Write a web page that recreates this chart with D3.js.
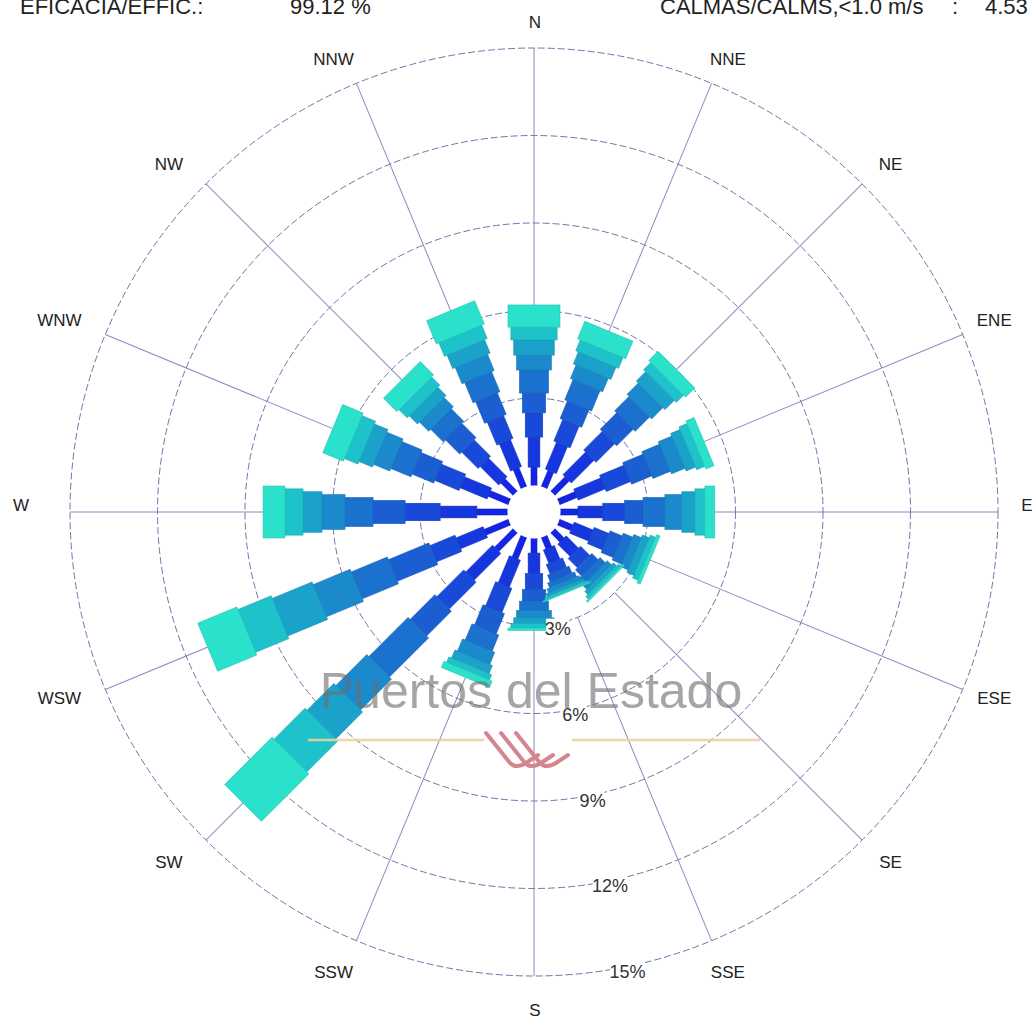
<!DOCTYPE html>
<html>
<head>
<meta charset="utf-8">
<script src="https://cdn.jsdelivr.net/npm/d3@7"></script>
<style>
  body { margin: 0; background: #fff; }
  svg { display: block; }
  text { font-family: "Liberation Sans", Arial, sans-serif; }
</style>
</head>
<body>
<script>

// 16 sectors, clockwise from north
var directions = ["N","NNE","NE","ENE","E","ESE","SE","SSE","S","SSW","SW","WSW","W","WNW","NW","NNW"];

// frequency (%) per speed class, one array per class, ordered as directions
var v1 = [0.63,0.60,0.70,0.65,0.60,0.50,0.45,0.42,0.50,0.80,0.90,0.90,1.05,0.75,0.60,0.70];
var v2 = [1.03,1.00,1.10,1.00,0.85,0.70,0.60,0.50,0.70,1.00,1.30,1.00,1.26,1.00,0.90,1.00];
var v3 = [0.83,0.80,0.90,0.90,0.75,0.55,0.45,0.35,0.55,0.90,1.30,0.93,1.20,0.90,0.80,0.85];
var v4 = [0.68,0.65,0.80,0.75,0.63,0.45,0.30,0.25,0.40,0.75,1.20,1.50,1.10,0.80,0.70,0.80];
var v5 = [0.79,0.75,0.70,0.65,0.75,0.35,0.25,0.18,0.32,0.60,1.90,1.34,0.96,0.75,0.60,0.75];
var v6 = [0.51,0.50,0.55,0.50,0.58,0.28,0.20,0.14,0.25,0.45,1.50,1.37,0.79,0.60,0.45,0.60];
var v7 = [0.52,0.45,0.45,0.35,0.45,0.25,0.15,0.11,0.20,0.30,1.30,1.48,0.65,0.50,0.40,0.50];
var v8 = [0.44,0.40,0.35,0.30,0.34,0.20,0.12,0.08,0.15,0.20,1.50,1.23,0.62,0.50,0.40,0.50];
var v9 = [0.76,0.65,0.45,0.30,0.34,0.12,0.06,0.04,0.08,0.23,2.30,1.45,0.75,0.76,0.65,0.86];

var classKeys = ["v1","v2","v3","v4","v5","v6","v7","v8","v9"];
var classSeries = [v1,v2,v3,v4,v5,v6,v7,v8,v9];

var ringTicks = [3,6,9,12,15];
var ringLabels = ["3%","6%","9%","12%","15%"];

var efficacy = "99.12 %";
var calms = "4.53";

var classColors = ["#1424e4","#1636de","#1849d8","#1a5ed2","#1b72ce","#1b8acc","#1aa2ca","#1ec2ca","#2ae2cc"];

var width = 1034, height = 1024;
var cx = 534, cy = 512;

var rows = directions.map(function(d, i){
  var row = {dir: d};
  classKeys.forEach(function(k, j){ row[k] = classSeries[j][i]; });
  return row;
});

var stacked = d3.stack().keys(classKeys)(rows);

var r = d3.scaleLinear().domain([0, 15]).range([26.5, 464]);
var barWidth = d3.scaleLinear().domain([0, classKeys.length-1]).range([6, 52]);
var color = d3.scaleOrdinal().domain(classKeys).range(classColors);
var angle = d3.scaleLinear().domain([0, directions.length]).range([0, 360]);

var svg = d3.select("body").append("svg")
  .attr("width", width)
  .attr("height", height);

var plot = svg.append("g").attr("transform", "translate(" + cx + "," + cy + ")");

// radial lines
plot.selectAll("line.spoke")
  .data(directions)
  .enter().append("line")
  .attr("class", "spoke")
  .attr("x1", 0).attr("y1", -r(3))
  .attr("x2", 0).attr("y2", -r(15))
  .attr("transform", function(d, i){ return "rotate(" + angle(i) + ")"; })
  .attr("stroke", "#8a8ac4")
  .attr("stroke-width", 1);

// dashed rings
plot.selectAll("circle.ring")
  .data(ringTicks)
  .enter().append("circle")
  .attr("class", "ring")
  .attr("r", function(d){ return r(d); })
  .attr("fill", "none")
  .attr("stroke", "#7474a8")
  .attr("stroke-width", 1)
  .attr("stroke-dasharray", "7,3");

// bars: one group per speed class, one rectangle per direction
var layers = plot.selectAll("g.layer")
  .data(stacked)
  .enter().append("g")
  .attr("class", "layer")
  .attr("fill", function(d){ return color(d.key); })
  .attr("stroke", function(d){ return d3.color(color(d.key)).darker(0.4); });

layers.selectAll("rect")
  .data(function(d){ return d.map(function(p){ return {p: p, idx: d.index}; }); })
  .enter().append("rect")
  .attr("x", function(d){ return -barWidth(d.idx)/2; })
  .attr("y", function(d){ return -r(d.p[1]); })
  .attr("width", function(d){ return barWidth(d.idx); })
  .attr("height", function(d){ return Math.max(0, r(d.p[1]) - r(d.p[0])); })
  .attr("stroke-width", 0.6)
  .attr("transform", function(d, i){ return "rotate(" + angle(i) + ")"; });

// calm circle
plot.append("circle").attr("r", r(0)).attr("fill", "#fff");

// ring labels, just east of south
var labAng = 11.5 * Math.PI / 180;
var rl = plot.selectAll("g.rlab")
  .data(ringTicks)
  .enter().append("g")
  .attr("class", "rlab")
  .attr("transform", function(d){
    return "translate(" + (r(d)*Math.sin(labAng) + 1) + "," + (r(d)*Math.cos(labAng) + 5) + ")";
  });
rl.append("rect")
  .attr("x", function(d, i){ return -ringLabels[i].length*5.8; })
  .attr("y", -10)
  .attr("width", function(d, i){ return ringLabels[i].length*11.6; })
  .attr("height", 20)
  .attr("fill", "#fff");
rl.append("text")
  .attr("text-anchor", "middle")
  .attr("dy", "0.35em")
  .attr("font-size", "18px")
  .attr("fill", "#333")
  .text(function(d, i){ return ringLabels[i]; });

// watermark on top, semi transparent
var wm = svg.append("g").attr("class", "watermark");
wm.append("line")
  .attr("x1", 308).attr("y1", 740).attr("x2", 484).attr("y2", 740)
  .attr("stroke", "#f1cf9a").attr("stroke-width", 2.5).attr("stroke-opacity", 0.9);
wm.append("line")
  .attr("x1", 572).attr("y1", 740).attr("x2", 760).attr("y2", 740)
  .attr("stroke", "#f1cf9a").attr("stroke-width", 2.5).attr("stroke-opacity", 0.9);
[0,1,2].forEach(function(i){
  var x0 = 486 + i*15, y0 = 733;
  wm.append("path")
    .attr("d", "M" + x0 + "," + y0 + " L" + (x0+24) + "," + (y0+30) +
               " Q" + (x0+30) + "," + (y0+36) + " " + (x0+40) + "," + (y0+30) +
               " L" + (x0+52) + "," + (y0+22))
    .attr("fill", "none")
    .attr("stroke", "#d3868e")
    .attr("stroke-width", 4)
    .attr("stroke-linecap", "round");
});
wm.append("text")
  .attr("x", 531).attr("y", 708)
  .attr("text-anchor", "middle")
  .attr("font-size", "50px")
  .attr("fill", "#6e6e6e")
  .attr("fill-opacity", 0.62)
  .text("Puertos del Estado");

// direction labels
svg.selectAll("text.dir")
  .data(directions)
  .enter().append("text")
  .attr("class", "dir")
  .attr("text-anchor", "middle")
  .attr("dy", "0.35em")
  .attr("font-size", "17px")
  .attr("fill", "#222")
  .attr("x", function(d, i){
    var a = angle(i) * Math.PI / 180, s = Math.sin(a);
    var extra = s < 0 ? -20*Math.sqrt(-s) : 10*s - 12*Math.pow(s, 8);
    return cx + 494*s + extra + 1;
  })
  .attr("y", function(d, i){
    var a = angle(i) * Math.PI / 180, c = Math.cos(a);
    return cy - 494*c - 7 + 11.5*Math.abs(c);
  })
  .text(function(d){ return d; });

// header
var hdr = svg.append("g").attr("font-size", "22px").attr("fill", "#222");
hdr.append("text").attr("x", 20).attr("y", 14).text("EFICACIA/EFFIC.:");
hdr.append("text").attr("x", 290).attr("y", 14).text(efficacy);
hdr.append("text").attr("x", 660).attr("y", 14).text("CALMAS/CALMS,<1.0 m/s");
hdr.append("text").attr("x", 952).attr("y", 14).text(":");
hdr.append("text").attr("x", 985).attr("y", 14).text(calms);

</script>
</body>
</html>
